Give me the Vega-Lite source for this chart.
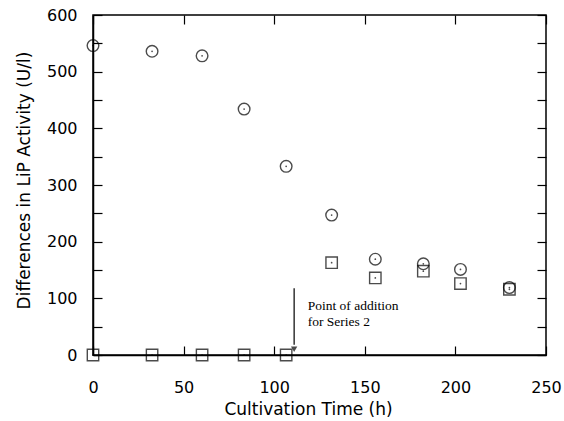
{
  "$schema": "https://vega.github.io/schema/vega-lite/v6.json",
  "width": 453,
  "height": 340,
  "autosize": "none",
  "padding": {"left": 93, "top": 15, "right": 18, "bottom": 66},
  "background": "white",
  "config": {
    "view": {"stroke": "black", "strokeWidth": 1.5},
    "axis": {
      "domainColor": "black", "domainWidth": 1.5, "tickColor": "black", "tickWidth": 1.2,
      "labelColor": "black", "titleColor": "black", "labelFont": "DejaVu Sans", "titleFont": "DejaVu Sans",
      "labelFontSize": 16, "titleFontSize": 17, "titleFontWeight": "normal", "grid": false, "labelFlush": false
    }
  },
  "datasets": {
    "pts": [
      {"time": 0, "lip": 546, "series": "Series 1"},
      {"time": 32.6, "lip": 536, "series": "Series 1"},
      {"time": 60.2, "lip": 528, "series": "Series 1"},
      {"time": 83.4, "lip": 434, "series": "Series 1"},
      {"time": 106.6, "lip": 333, "series": "Series 1"},
      {"time": 131.7, "lip": 247, "series": "Series 1"},
      {"time": 155.8, "lip": 169, "series": "Series 1"},
      {"time": 182.3, "lip": 161, "series": "Series 1"},
      {"time": 202.8, "lip": 151, "series": "Series 1"},
      {"time": 229.8, "lip": 119, "series": "Series 1"},
      {"time": 0, "lip": 0, "series": "Series 2"},
      {"time": 32.6, "lip": 0, "series": "Series 2"},
      {"time": 60.2, "lip": 0, "series": "Series 2"},
      {"time": 83.4, "lip": 0, "series": "Series 2"},
      {"time": 106.6, "lip": 0, "series": "Series 2"},
      {"time": 131.7, "lip": 163, "series": "Series 2"},
      {"time": 155.8, "lip": 136, "series": "Series 2"},
      {"time": 182.3, "lip": 148, "series": "Series 2"},
      {"time": 202.8, "lip": 126, "series": "Series 2"},
      {"time": 229.8, "lip": 116, "series": "Series 2"}
    ],
    "arrow": [{"time": 111, "top": 118, "bottom": 18, "head": 10}],
    "note": [
      {"time": 118.5, "lip": 86, "text": "Point of addition"},
      {"time": 118.5, "lip": 59, "text": "for Series 2"}
    ]
  },
  "resolve": {"axis": {"x": "independent", "y": "independent"}},
  "layer": [
    {
      "data": {"name": "pts"},
      "mark": {"type": "point", "filled": false, "color": "black", "strokeWidth": 1.4, "clip": false},
      "encoding": {
        "x": {"field": "time", "type": "quantitative", "scale": {"domain": [0, 250], "nice": false},
          "axis": {"orient": "bottom", "title": "Cultivation Time (h)", "values": [0, 50, 100, 150, 200, 250],
            "tickSize": -9, "labelPadding": 33, "titlePadding": 6, "titleX": 215}},
        "y": {"field": "lip", "type": "quantitative", "scale": {"domain": [0, 600], "nice": false},
          "axis": {"orient": "left", "title": "Differences in LiP Activity (U/l)",
            "values": [0, 50, 100, 150, 200, 250, 300, 350, 400, 450, 500, 550, 600],
            "labelExpr": "datum.value % 100 == 0 ? datum.label : ''",
            "tickSize": -9, "labelPadding": 25, "titlePadding": 13, "titleY": 165}},
        "shape": {"field": "series", "type": "nominal", "scale": {"domain": ["Series 1", "Series 2"], "range": ["circle", "square"]}, "legend": null},
        "size": {"field": "series", "type": "nominal", "scale": {"domain": ["Series 1", "Series 2"], "range": [135, 130]}, "legend": null}
      }
    },
    {
      "data": {"name": "pts"},
      "mark": {"type": "point", "filled": true, "color": "black", "size": 3, "shape": "circle", "clip": false},
      "encoding": {
        "x": {"field": "time", "type": "quantitative",
          "axis": {"orient": "top", "title": null, "labels": false, "values": [0, 50, 100, 150, 200, 250], "tickSize": -9, "domain": false}},
        "y": {"field": "lip", "type": "quantitative",
          "axis": {"orient": "right", "title": null, "labels": false,
            "values": [0, 50, 100, 150, 200, 250, 300, 350, 400, 450, 500, 550, 600], "tickSize": -9, "domain": false}}
      }
    },
    {
      "data": {"name": "arrow"},
      "mark": {"type": "rule", "color": "black", "strokeWidth": 1.2},
      "encoding": {
        "x": {"field": "time", "type": "quantitative", "axis": null},
        "y": {"field": "top", "type": "quantitative", "axis": null},
        "y2": {"field": "bottom"}
      }
    },
    {
      "data": {"name": "arrow"},
      "mark": {"type": "point", "shape": "triangle-down", "filled": true, "color": "black", "size": 40},
      "encoding": {
        "x": {"field": "time", "type": "quantitative", "axis": null},
        "y": {"field": "head", "type": "quantitative", "axis": null}
      }
    },
    {
      "data": {"name": "note"},
      "mark": {"type": "text", "align": "left", "baseline": "middle", "font": "Liberation Serif", "fontSize": 13.5, "color": "black"},
      "encoding": {
        "x": {"field": "time", "type": "quantitative", "axis": null},
        "y": {"field": "lip", "type": "quantitative", "axis": null},
        "text": {"field": "text"}
      }
    }
  ]
}
